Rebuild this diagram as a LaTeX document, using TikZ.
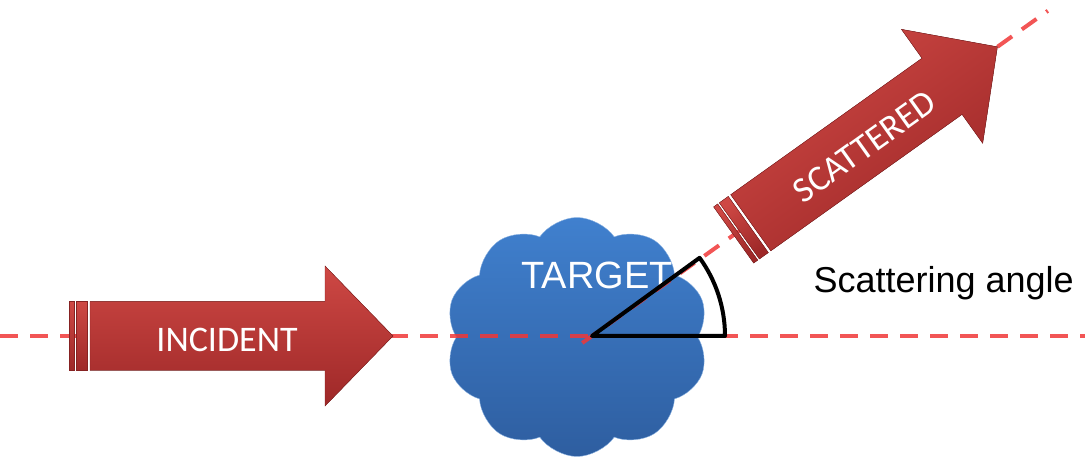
\documentclass[tikz,border=0pt]{standalone}
\usepackage{fontspec}
\setmainfont{Liberation Sans}
\newfontfamily\calibri{Carlito}
\usetikzlibrary{shapes.symbols}

\definecolor{arrowtop}{RGB}{206,72,68}
\definecolor{arrowbot}{RGB}{158,40,40}
\definecolor{cloudtop}{RGB}{64,128,206}
\definecolor{cloudbot}{RGB}{46,94,160}
\definecolor{beamred}{RGB}{240,55,55}

\begin{document}
\begin{tikzpicture}[x=1pt, y=1pt,
    beam/.style={beamred, opacity=0.85, line width=4pt, dash pattern=on 18pt off 12pt},
    blockarrow/.style={top color=arrowtop, bottom color=arrowbot, draw=arrowbot!85!black, line width=0.4pt},
    arrowlabel/.style={text=white, font=\calibri\fontsize{36}{36}\selectfont, transform shape}]
\useasboundingbox (0,0) rectangle (1085,468);

% Target
\node[cloud, cloud puffs=10, cloud puff arc=110, aspect=1.1,
    minimum width=263, minimum height=239, inner sep=0pt,
    top color=cloudtop, bottom color=cloudbot, draw=cloudtop!60!white]
    (target) at (577,131) {};
\node[text=white, font=\fontsize{38}{38}\selectfont] (targetlabel) at (597,193) {TARGET};

% Beam lines
\coordinate (O) at (592,132);
\coordinate (beamstart) at (0,132);
\coordinate (beamend) at (1085,132);
\coordinate (scatstart) at ([shift={(215.5:12)}]O);
\coordinate (scatend) at ([shift={(35.5:560)}]O);
\draw[beam] (beamstart) -- (beamend);
\draw[beam] (scatstart) -- (scatend);

% Incident and scattered arrows
\foreach \ang/\s/\name/\txt in {0/-523/incident/INCIDENT, 35.5/174/scattered/SCATTERED}
{
    \begin{scope}[shift={(O)}, rotate=\ang, xshift=\s]
        \fill[blockarrow, shading angle=\ang] (0,-34.5) rectangle (5,34.5);
        \fill[blockarrow, shading angle=\ang] (7,-34.5) rectangle (18,34.5);
        \fill[blockarrow, shading angle=\ang] (21,-34.5) -- (256,-34.5) -- (256,-70) -- (324,0)
            -- (256,70) -- (256,34.5) -- (21,34.5) -- cycle;
        \node[arrowlabel] (\name) at (158,-4) {\txt};
    \end{scope}
}

% Scattering angle
\draw[line width=4pt, line join=round] (O) -- ([shift={(0:133)}]O)
    arc[start angle=0, end angle=36, radius=133] -- cycle;
\node[anchor=base west, font=\fontsize{36}{36}\selectfont] (anglelabel) at (810,175) {Scattering angle};

\end{tikzpicture}
\end{document}
